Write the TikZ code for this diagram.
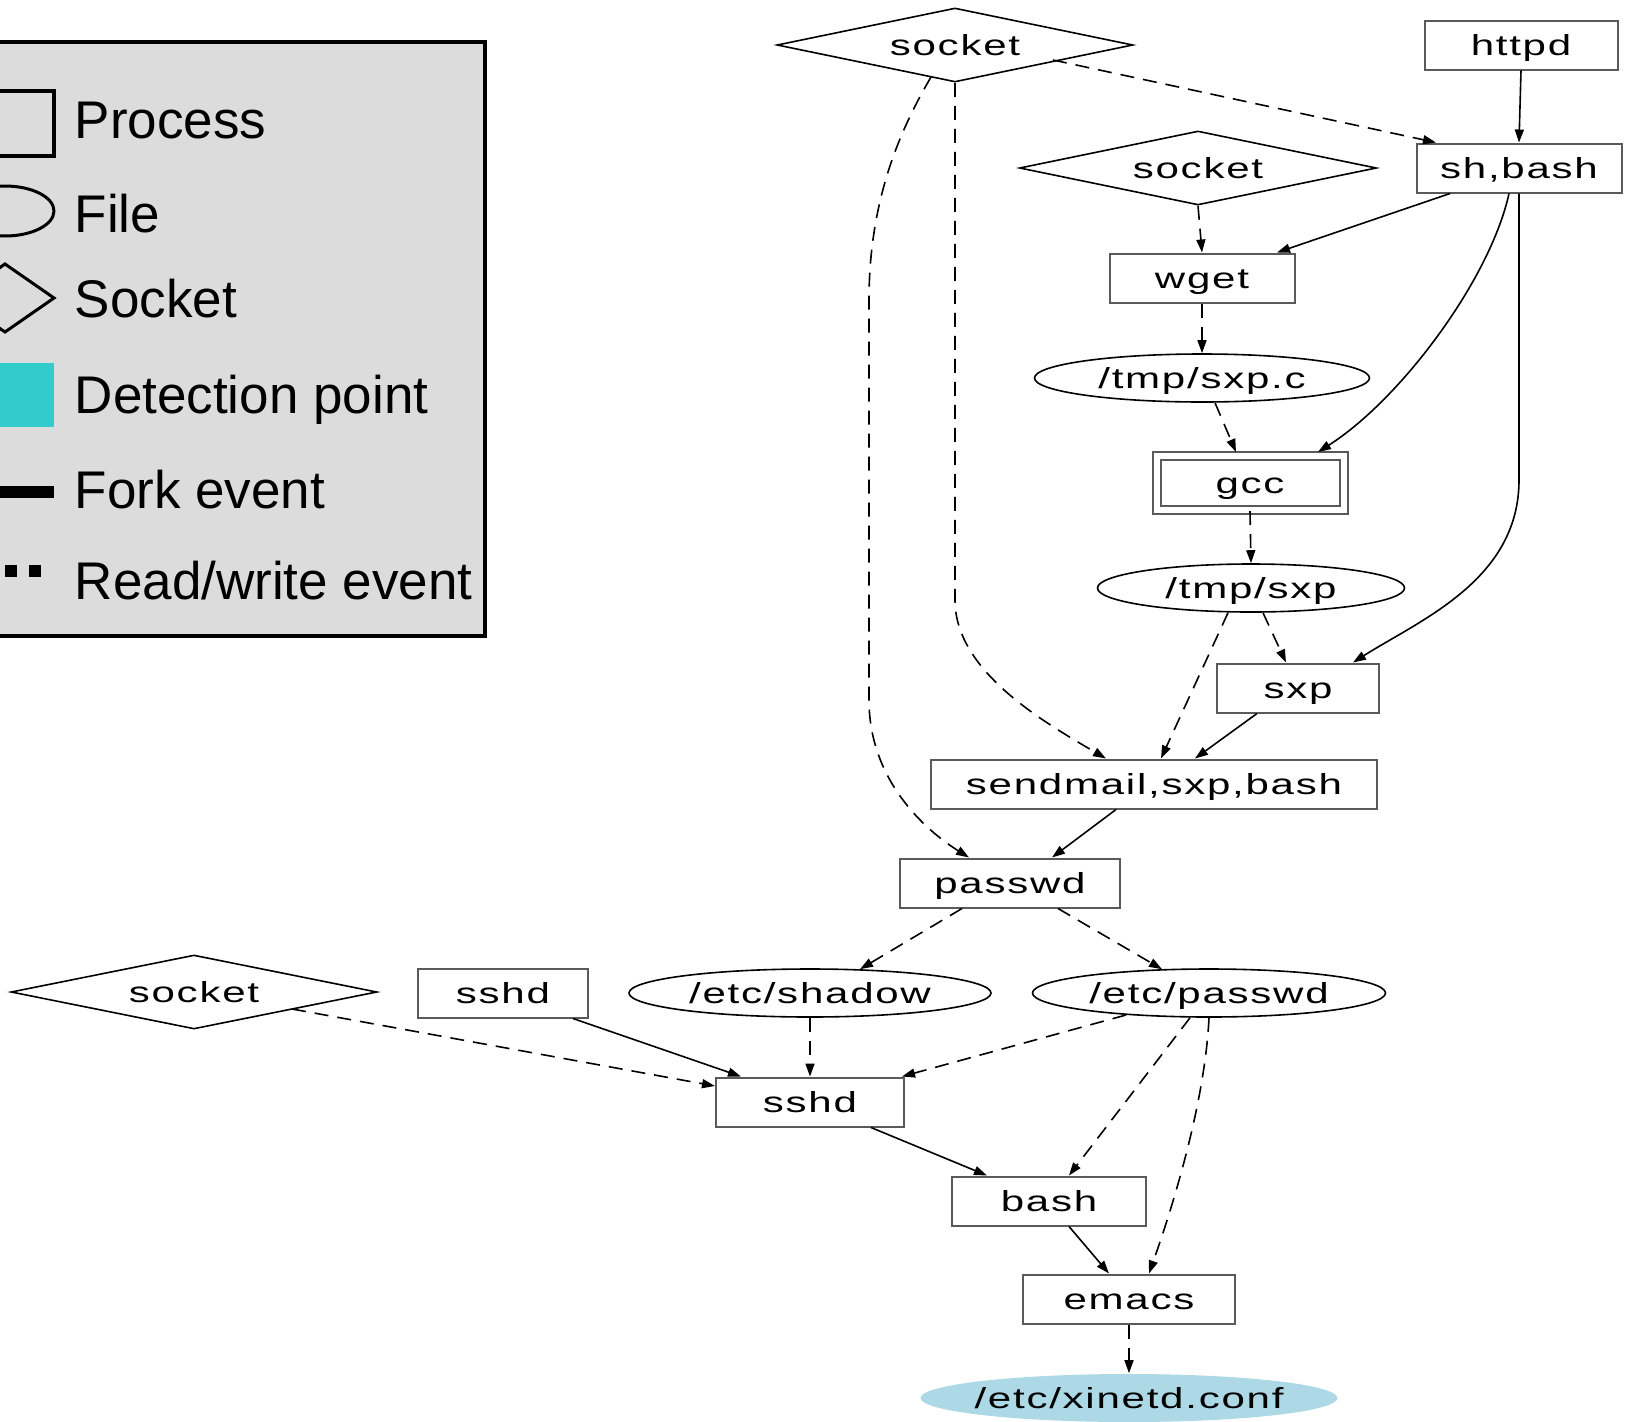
\documentclass[tikz,border=0pt]{standalone}
\usepackage{fontspec}
\setmainfont{Liberation Sans}
\newfontfamily\graphfont{Liberation Sans}[FakeStretch=1.45,LetterSpace=6]
\usetikzlibrary{shapes.geometric,arrows.meta,calc}
\definecolor{legendgray}{HTML}{DCDCDC}
\definecolor{detectcyan}{HTML}{33CCCC}
\definecolor{filecyan}{HTML}{ADD8E6}
\definecolor{boxgray}{HTML}{5A5A5A}
\begin{document}
\begin{tikzpicture}[x=1pt,y=-1pt,line width=1.6pt,>={Triangle[length=13pt,width=9pt]},
	gfont/.style={font=\graphfont\fontsize{29}{35}\selectfont,text height=23pt,text depth=3pt},
	proc/.style={rectangle,draw=boxgray,line width=2pt,minimum height=49pt,inner sep=0pt,gfont},
	datafile/.style={ellipse,draw,minimum height=48pt,inner sep=0pt,gfont},
	sock/.style={diamond,draw,aspect=4.8,minimum height=74pt,inner sep=0pt,gfont},
	fork/.style={->},
	rw/.style={->,dash pattern=on 14pt off 9pt},
	leg/.style={anchor=base west,inner sep=0pt,font=\fontsize{53}{64}\selectfont}]
				\useasboundingbox (0,0) rectangle (1626,1422);
				\clip (0,0) rectangle (1626,1422);
				\draw[fill=legendgray,line width=4pt] (-20,42) rectangle (485,636);
				\draw[line width=3.5pt] (-10,91) rectangle (54,156);
				\node[leg] (lproc) at (74,138) {Process};
				\draw[line width=3pt] (5,211) ellipse [x radius=49,y radius=25];
				\node[leg] (lfile) at (74,232) {File};
				\draw[line width=3pt] (5,264) -- (54,298) -- (5,332) -- (-44,298) -- cycle;
				\node[leg] (lsock) at (74,317) {Socket};
				\fill[detectcyan] (-10,363) rectangle (54,427);
				\node[leg] (ldet) at (74,413) {Detection point};
				\draw[line width=12pt] (-10,492) -- (54,492);
				\node[leg] (lfork) at (74,508) {Fork event};
				\draw[line width=12pt,dash pattern=on 12pt off 12pt] (-19,571) -- (41,571);
				\node[leg] (lrw) at (74,599) {Read/write event};
				\node[sock,minimum width=356pt] (sockA) at (955,45) {socket};
				\node[proc,minimum width=193pt] (httpd) at (1521,45) {httpd};
				\node[sock,minimum width=357pt] (sockB) at (1198,168) {socket};
				\node[proc,minimum width=205pt] (shbash) at (1519,168) {sh,bash};
				\node[proc,minimum width=185pt] (wget) at (1202,278) {wget};
				\node[datafile,minimum width=335pt] (sxpc) at (1202,378) {/tmp/sxp.c};
				\node[proc,double,double distance=6pt,minimum width=187pt,minimum height=54pt] (gcc) at (1250,483) {gcc};
				\node[datafile,minimum width=307pt] (tmpsxp) at (1251,588) {/tmp/sxp};
				\node[proc,minimum width=162pt] (sxp) at (1298,688) {sxp};
				\node[proc,minimum width=446pt] (sendmail) at (1154,784) {sendmail,sxp,bash};
				\node[proc,minimum width=220pt] (passwd) at (1010,883) {passwd};
				\node[sock,minimum width=366pt] (sockC) at (194,992) {socket};
				\node[proc,minimum width=170pt] (sshdA) at (503,993) {sshd};
				\node[datafile,minimum width=362pt] (shadow) at (810,993) {/etc/shadow};
				\node[datafile,minimum width=353pt] (etcpasswd) at (1209,993) {/etc/passwd};
				\node[proc,minimum width=188pt] (sshdB) at (810,1102) {sshd};
				\node[proc,minimum width=194pt] (bash) at (1049,1201) {bash};
				\node[proc,minimum width=212pt] (emacs) at (1129,1299) {emacs};
				\node[datafile,draw=none,fill=filecyan,inner xsep=-10pt,minimum width=417pt] (xinetd) at (1129,1398) {/etc/xinetd.conf};
				\draw[rw] ($(sockA)+(98,15)$) -- ($(shbash.north)+(-83,0)$);
				\draw[fork] (httpd.south) -- (shbash.north);
				\draw[rw] ($(sockA)+(-24,32)$) .. controls (900,130) and (869,200) .. (869,300) -- (869,700) .. controls (869,780) and (925,830) .. ($(passwd.north)+(-41,0)$);
				\draw[rw] (sockA.south) -- (955,600) .. controls (955,670) and (1040,720) .. ($(sendmail.north)+(-48,0)$);
				\draw[rw] (sockB.south) -- (wget.north);
				\draw[fork] ($(shbash.south)+(-69,0)$) -- ($(wget.north)+(75,0)$);
				\draw[fork] ($(shbash.south)+(-10,0)$) .. controls (1490,280) and (1400,400) .. ($(gcc.north)+(68,-3)$);
				\draw[fork] (shbash.south) -- (1519,480) .. controls (1519,580) and (1420,620) .. ($(sxp.north)+(55,0)$);
				\draw[rw] (wget.south) -- (sxpc.north);
				\draw[rw] ($(sxpc.south)+(13,0)$) -- ($(gcc.north)+(-14,-3)$);
				\draw[rw] (gcc.south) -- (tmpsxp.north);
				\draw[rw] ($(tmpsxp.south)+(12,0)$) -- ($(sxp.north)+(-12,0)$);
				\draw[rw] ($(tmpsxp.south)+(-23,0)$) -- ($(sendmail.north)+(7,0)$);
				\draw[fork] ($(sxp.south)+(-41,0)$) -- ($(sendmail.north)+(41,0)$);
				\draw[fork] ($(sendmail.south)+(-38,0)$) -- ($(passwd.north)+(42,0)$);
				\draw[rw] ($(passwd.south)+(-48,0)$) -- ($(shadow.north)+(50,1)$);
				\draw[rw] ($(passwd.south)+(48,0)$) -- ($(etcpasswd.north)+(-47,1)$);
				\draw[rw] ($(sockC)+(98,17)$) -- ($(sshdB.west)+(0,-16)$);
				\draw[fork] ($(sshdA.south)+(70,0)$) -- ($(sshdB.north)+(-69,0)$);
				\draw[rw] (shadow.south) -- (sshdB.north);
				\draw[rw] ($(etcpasswd)+(-83,22)$) -- ($(sshdB.north)+(92,0)$);
				\draw[rw] ($(etcpasswd.south)+(-19,0)$) -- ($(bash.north)+(20,0)$);
				\draw[rw] (etcpasswd.south) .. controls (1205,1100) and (1175,1200) .. ($(emacs.north)+(20,0)$);
				\draw[fork] ($(sshdB.south)+(61,0)$) -- ($(bash.north)+(-62,0)$);
				\draw[fork] ($(bash.south)+(20,0)$) -- ($(emacs.north)+(-20,0)$);
				\draw[rw] (emacs.south) -- (xinetd.north);
\end{tikzpicture}
\end{document}
